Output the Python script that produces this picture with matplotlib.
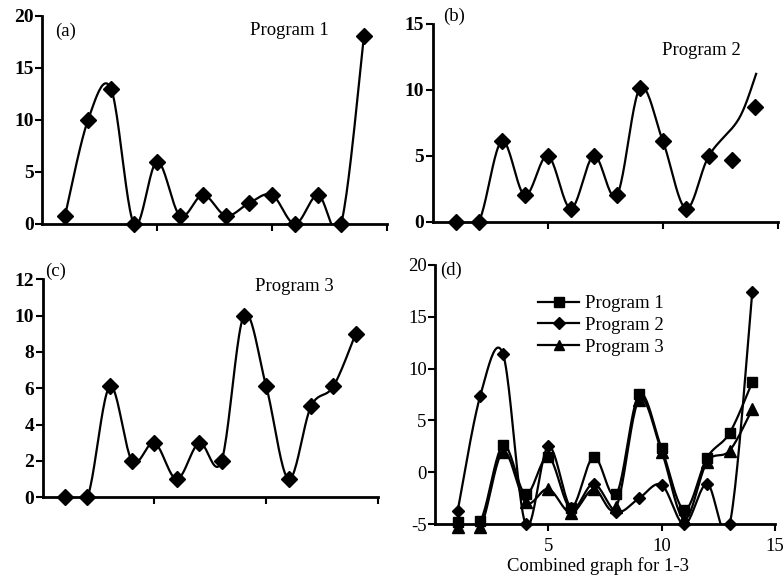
import numpy as np
import matplotlib
matplotlib.use("Agg")
import matplotlib.pyplot as plt
from matplotlib.lines import Line2D

plt.rcParams['font.family'] = ['Liberation Serif', 'DejaVu Serif']
plt.rcParams['axes.unicode_minus'] = False

# ---- data ----
x_idx = [1, 2, 3, 4, 5, 6, 7, 8, 9, 10, 11, 12, 13, 14]

prog1_a = [0.8, 10, 13, 0, 6, 0.8, 2.8, 0.8, 2, 2.8, 0, 2.8, 0, 18.1]

prog2_b = [0, 0, 6.1, 2, 5, 1, 5, 2, 10.1, 6.1, 1, 5, 4.7, 8.7]
prog2_b_curve_x = [1, 2, 3, 4, 5, 6, 7, 8, 9, 10, 11, 12, 13.3, 14.05]
prog2_b_curve_y = [0, 0, 6.1, 2, 5, 1, 5, 2, 10.1, 6.1, 1, 5, 7.8, 11.2]

prog3_c = [0, 0, 6.1, 2, 3, 1, 3, 2, 10, 6.1, 1, 5, 6.1, 9]

d_prog1 = [-4.8, -4.7, 2.6, -2.1, 1.5, -3.4, 1.5, -2.1, 7.5, 2.3, -3.6, 1.4, 3.8, 8.7]
d_prog2 = [-3.7, 7.4, 11.4, -5.0, 2.5, -3.4, -1.1, -3.8, -2.5, -1.2, -5.0, -1.1, -5.0, 17.4]
d_prog3 = [-5.3, -5.3, 2.0, -2.9, -1.6, -3.9, -1.6, -3.3, 7.0, 2.0, -4.5, 1.0, 2.1, 6.1]

legend_labels = ['Program 1', 'Program 2', 'Program 3']


def smooth(x, y, n=24):
    x = np.asarray(x, float)
    y = np.asarray(y, float)
    N = len(x)
    xs, ys = [], []
    for i in range(N - 1):
        i0 = max(i - 1, 0)
        i3 = min(i + 2, N - 1)
        p0 = np.array([x[i], y[i]])
        p3 = np.array([x[i + 1], y[i + 1]])
        c1 = p0 + (np.array([x[i + 1], y[i + 1]]) - np.array([x[i0], y[i0]])) / 6.0
        c2 = p3 - (np.array([x[i3], y[i3]]) - np.array([x[i], y[i]])) / 6.0
        t = np.linspace(0, 1, n)[:, None]
        pts = ((1 - t) ** 3) * p0 + 3 * ((1 - t) ** 2) * t * c1 + 3 * (1 - t) * t ** 2 * c2 + t ** 3 * p3
        if i > 0:
            pts = pts[1:]
        xs.append(pts[:, 0])
        ys.append(pts[:, 1])
    return np.concatenate(xs), np.concatenate(ys)


W, H = 784, 583
fig = plt.figure(figsize=(W / 100, H / 100), dpi=100)


def ax_px(l, r, b, t):
    return fig.add_axes([l / W, 1 - b / H, (r - l) / W, (b - t) / H])


def style(ax, ylim, yticks, bold=True, xlabels=False, size=14):
    for s in ['top', 'right']:
        ax.spines[s].set_visible(False)
    for s in ['left', 'bottom']:
        ax.spines[s].set_linewidth(2)
    ax.set_xlim(0, 15)
    ax.set_ylim(*ylim)
    ax.set_yticks(yticks)
    ax.set_xticks([5, 10, 15])
    ax.tick_params(direction='out', length=5, width=1.5, labelsize=size, pad=1)
    if not xlabels:
        ax.set_xticklabels([])
    for lab in ax.get_yticklabels():
        lab.set_fontweight('bold' if bold else 'normal')


LW = 1.6
FS = 13.5
# (a)
axa = ax_px(42, 387, 224, 16)
style(axa, (0, 20), [0, 5, 10, 15, 20])
sx, sy = smooth(x_idx, prog1_a)
axa.plot(sx, sy, color='black', lw=LW)
axa.plot(x_idx, prog1_a, 'D', color='black', ms=8.5, clip_on=False)
axa.text(0.038, 0.928, '(a)', transform=axa.transAxes, fontsize=FS, va='center')
axa.text(0.603, 0.928, 'Program 1', transform=axa.transAxes, fontsize=FS, va='center')

# (b)
axb = ax_px(432.7, 778, 221.7, 23.7)
style(axb, (0, 15), [0, 5, 10, 15])
sx, sy = smooth(prog2_b_curve_x, prog2_b_curve_y)
axb.plot(sx, sy, color='black', lw=LW)
axb.plot(x_idx, prog2_b, 'D', color='black', ms=8.5, clip_on=False)
axb.text(0.03, 1.036, '(b)', transform=axb.transAxes, fontsize=FS, va='center')
axb.text(0.664, 0.867, 'Program 2', transform=axb.transAxes, fontsize=FS, va='center')

# (c)
axc = ax_px(42.7, 378, 497.3, 279.3)
style(axc, (0, 12), [0, 2, 4, 6, 8, 10, 12])
sx, sy = smooth(x_idx, prog3_c)
axc.plot(sx, sy, color='black', lw=LW)
axc.plot(x_idx, prog3_c, 'D', color='black', ms=8.5, clip_on=False)
axc.text(0.007, 1.038, '(c)', transform=axc.transAxes, fontsize=FS, va='center')
axc.text(0.633, 0.965, 'Program 3', transform=axc.transAxes, fontsize=FS, va='center')

# (d)
axd = ax_px(435, 775, 524.3, 264.7)
style(axd, (-5, 20), [-5, 0, 5, 10, 15, 20], bold=False, xlabels=True, size=13.5)
axd.set_xticklabels(['5', '10', '15'])
axd.tick_params(axis='x', pad=5)
for yv, mk, ms in [(d_prog1, 's', 7.5), (d_prog2, 'D', 6.5), (d_prog3, '^', 8)]:
    sx, sy = smooth(x_idx, yv)
    axd.plot(sx, sy, color='black', lw=LW)
    axd.plot(x_idx, yv, mk, color='black', ms=ms, clip_on=False)
axd.text(0.015, 0.98, '(d)', transform=axd.transAxes, fontsize=FS, va='center')
axd.set_xlabel('Combined graph for 1-3', fontsize=FS)
axd.xaxis.set_label_coords(0.478, -0.125)
handles = [Line2D([], [], color='black', lw=LW, marker=m, ms=s)
           for m, s in [('s', 6.5), ('D', 6), ('^', 7)]]
axd.legend(handles, legend_labels, loc='upper left', bbox_to_anchor=(538 / W, 1 - 295 / H),
           bbox_transform=fig.transFigure, frameon=False, fontsize=FS,
           handlelength=2.2, handletextpad=0.3, labelspacing=0.25, borderpad=0, borderaxespad=0)

fig.savefig('out.png', dpi=100)
